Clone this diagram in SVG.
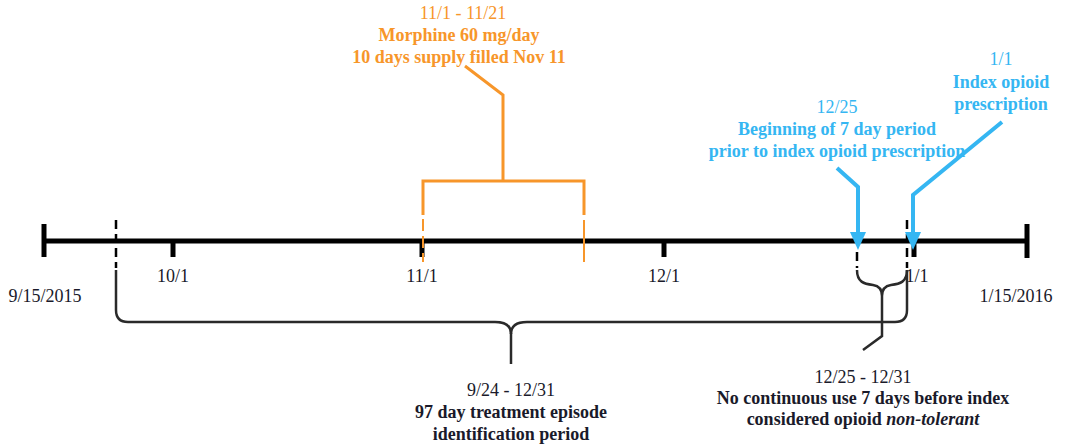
<svg xmlns="http://www.w3.org/2000/svg" width="1070" height="444" viewBox="0 0 1070 444">
<style>
text{font-family:"Liberation Serif","Times New Roman",serif;font-size:18px;text-anchor:middle}
.b{font-weight:bold}
.k{fill:#1a1a2a}
.o{fill:#F7962A}
.u{fill:#35B6F2}
.axis{stroke:#000;stroke-width:5;fill:none}
.tick{stroke:#000;stroke-width:5;fill:none}
.dash{stroke:#000;stroke-width:2.5;stroke-dasharray:9 5;fill:none}
.brace{stroke:#2a2a2a;stroke-width:2.5;fill:none}
.orn{stroke:#F7962A;stroke-width:3;fill:none}
.orthin{stroke:#F7962A;stroke-width:2;fill:none}
.blu{stroke:#35B6F2;stroke-width:4;fill:none;marker-end:url(#ah)}
</style>
<defs>
<marker id="ah" viewBox="0 0 18 16" refX="0" refY="8" markerWidth="18" markerHeight="16" markerUnits="userSpaceOnUse" orient="auto">
<path d="M0,0 L18,8 L0,16 z" fill="#35B6F2"/>
</marker>
</defs>
<g id="timeline">
<line class="axis" x1="44" y1="241" x2="1027" y2="241"/>
<line class="tick" x1="44" y1="224" x2="44" y2="257"/>
<line class="tick" x1="1027" y1="224" x2="1027" y2="258"/>
<line class="tick" x1="173" y1="241" x2="173" y2="257"/>
<line class="tick" x1="422" y1="241" x2="422" y2="257"/>
<line class="tick" x1="664" y1="241" x2="664" y2="257"/>
<line class="tick" x1="914" y1="241" x2="914" y2="257"/>
<text class="k" x="45" y="302">9/15/2015</text>
<text class="k" x="173" y="282">10/1</text>
<text class="k" x="422" y="282">11/1</text>
<text class="k" x="664" y="282">12/1</text>
<text class="k" x="917" y="282">1/1</text>
<text class="k" x="1016" y="302">1/15/2016</text>
</g>
<g id="connectors">
<line class="dash" x1="116" y1="220" x2="116" y2="268"/>
<line class="dash" x1="907" y1="220" x2="907" y2="268"/>
<line class="dash" x1="857" y1="252" x2="857" y2="268"/>
<path class="brace" d="M116,270 L116,310 Q116,322 128,322 L495,322 C505,322 511,326 511,334 C511,326 517,322 527,322 L895,322 Q907,322 907,310 L907,270"/>
<line class="brace" x1="511" y1="333" x2="511" y2="364"/>
<path class="brace" d="M857,270 C857,282 864,284 873,285 C880,286 882,290 882,296 M907,270 C907,282 900,284 891,285 C884,286 882,290 882,296 L882,336 L863,350"/>
<path class="orn" d="M465,66 L503,95 L503,181"/>
<path class="orn" d="M423,215 L423,181 L584,181 L584,215"/>
<line class="orthin" x1="423" y1="219" x2="423" y2="262" stroke-dasharray="12 5"/>
<line class="orthin" x1="584" y1="220" x2="584" y2="262"/>
<path class="blu" d="M837,168 L858,187 L858,232"/>
<path class="blu" d="M1002,122 L913,195 L913,232"/>
</g>
<g id="orange-label">
<text class="o" x="463" y="19">11/1 - 11/21</text>
<text class="o b" x="459" y="41">Morphine 60 mg/day</text>
<text class="o b" x="459" y="63">10 days supply filled Nov 11</text>
</g>
<g id="blue-label-1225">
<text class="u" x="837" y="113">12/25</text>
<text class="u b" x="837" y="135">Beginning of 7 day period</text>
<text class="u b" x="837" y="157">prior to index opioid prescription</text>
</g>
<g id="blue-label-11">
<text class="u" x="1001" y="65">1/1</text>
<text class="u b" x="1001" y="88">Index opioid</text>
<text class="u b" x="1001" y="110">prescription</text>
</g>
<g id="episode-label">
<text class="k" x="511" y="396">9/24 - 12/31</text>
<text class="k b" x="511" y="418">97 day treatment episode</text>
<text class="k b" x="511" y="440">identification period</text>
</g>
<g id="nontolerant-label">
<text class="k" x="863" y="383">12/25 - 12/31</text>
<text class="k b" x="863" y="404">No continuous use 7 days before index</text>
<text class="k b" x="863" y="425">considered opioid <tspan font-style="italic">non-tolerant</tspan></text>
</g>
</svg>
